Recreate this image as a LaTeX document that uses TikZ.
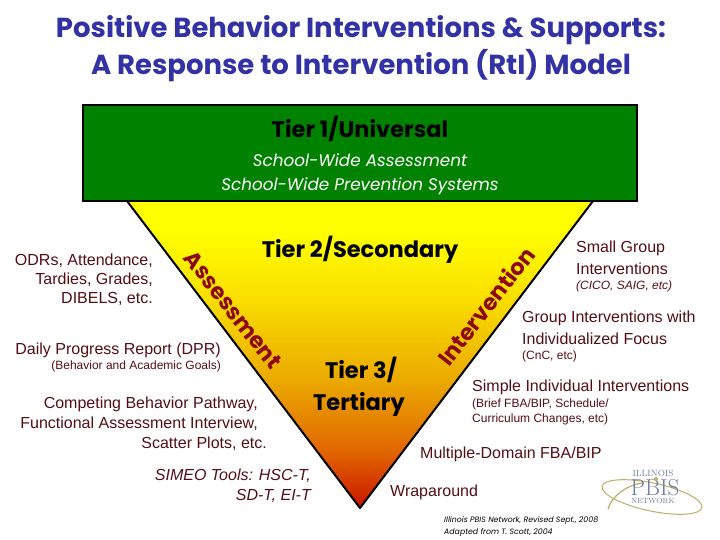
\documentclass[tikz,border=0pt]{standalone}
\usepackage{fontspec}
\setmainfont{Liberation Sans}
\newfontfamily\gothic{Poppins}
\usetikzlibrary{positioning,shapes.geometric}
\definecolor{titleblue}{RGB}{50,50,165}
\definecolor{tiergreen}{RGB}{0,130,0}
\definecolor{notered}{RGB}{85,15,20}
\definecolor{sidered}{RGB}{140,10,10}
\definecolor{logoblue}{RGB}{110,125,155}
\definecolor{logogold}{RGB}{185,175,105}
\definecolor{fadeA}{RGB}{200,20,0}
\definecolor{fadeB}{RGB}{225,100,0}
\definecolor{fadeC}{RGB}{235,170,0}
\definecolor{fadeD}{RGB}{250,225,0}
\pgfdeclareverticalshading{tierfade}{100bp}{color(0bp)=(fadeA);color(25bp)=(fadeA);color(34bp)=(fadeB);color(46bp)=(fadeC);color(60bp)=(fadeD);color(70bp)=(yellow);color(100bp)=(yellow)}
\begin{document}
\begin{tikzpicture}[x=1pt,y=-1pt,
titletext/.style={font=\gothic\bfseries\fontsize{27.5}{27.5}\selectfont,text=titleblue,inner sep=0pt},
tiertext/.style={font=\gothic\bfseries\fontsize{22.5}{22.5}\selectfont,inner sep=0pt},
schooltext/.style={font=\gothic\itshape\fontsize{16.8}{16.8}\selectfont,text=white,inner sep=0pt},
sidetext/.style={font=\gothic\bfseries\fontsize{22.5}{22.5}\selectfont,text=sidered,inner sep=0pt},
note/.style={font=\fontsize{16}{16}\selectfont,text=notered,inner sep=0pt},
smallnote/.style={font=\fontsize{12}{12}\selectfont,text=notered,inner sep=0pt},
logotext/.style={font=\fontfamily{lmr}\fontsize{9}{9}\selectfont,text=logoblue,inner sep=0pt}]
\useasboundingbox (0,0) rectangle (720,540);
\fill[white] (0,0) rectangle (720,540);
\shade[shading=tierfade,draw=black,line width=2pt,line join=round] (127,201) -- (593,201) -- (360,508) -- cycle;
\node[draw=black,line width=1.5pt,fill=tiergreen,minimum width=554pt,minimum height=96pt,inner sep=0pt] (uni) at (360,153) {};
\node[titletext] (title1) at (361,30) {Positive Behavior Interventions \& Supports:};
\node[titletext] (title2) at (361,66) {A Response to Intervention (RtI) Model};
\node[tiertext] (tier1) at (360,129) {Tier 1/Universal};
\node[schooltext] (school1) at (360,160) {School-Wide Assessment};
\node[schooltext] (school2) at (360,186) {School-Wide Prevention Systems};
\node[tiertext] (tier2) at (360,250) {Tier 2/Secondary};
\node[tiertext] (tier3) at (361,370) {Tier 3/};
\node[tiertext] (tertiary) at (359,404) {Tertiary};
\node[sidetext,rotate=-52] (assess) at (233,310) {Assessment};
\node[sidetext,rotate=52] (interv) at (486,306) {Intervention};
% left column
\node[note,anchor=east] (odr) at (153,261) {ODRs, Attendance,};
\node[note,anchor=east] (tardies) at (153,280) {Tardies, Grades,};
\node[note,anchor=east] (dibels) at (153,299) {DIBELS, etc.};
\node[note,anchor=east] (dpr) at (221,350) {Daily Progress Report (DPR)};
\node[smallnote,anchor=east] (goals) at (221,366) {(Behavior and Academic Goals)};
\node[note,anchor=east] (pathway) at (258,404) {Competing Behavior Pathway,};
\node[note,anchor=east] (fai) at (258,424) {Functional Assessment Interview,};
\node[note,anchor=east] (scatter) at (267,444) {Scatter Plots, etc.};
\node[note,font=\itshape\fontsize{16}{16}\selectfont,anchor=east] (simeo) at (311,476) {SIMEO Tools: HSC-T,};
\node[note,font=\itshape\fontsize{16}{16}\selectfont,anchor=east] (sdt) at (311,496) {SD-T, EI-T};
% right column
\node[note,anchor=west] (small) at (576,248) {Small Group};
\node[note,anchor=west] (sminter) at (576,269) {Interventions};
\node[smallnote,font=\itshape\fontsize{12}{12}\selectfont,anchor=west] (cico) at (576,286) {(CICO, SAIG, etc)};
\node[note,anchor=west] (group) at (522,318) {Group Interventions with};
\node[note,anchor=west] (indiv) at (522,339) {Individualized Focus};
\node[smallnote,anchor=west] (cnc) at (522,356) {(CnC, etc)};
\node[note,anchor=west] (simple) at (472,387) {Simple Individual Interventions};
\node[smallnote,anchor=west] (brief) at (472,404) {(Brief FBA/BIP, Schedule/};
\node[smallnote,anchor=west] (curr) at (472,419) {Curriculum Changes, etc)};
\node[note,anchor=west] (multi) at (420,454) {Multiple-Domain FBA/BIP};
\node[note,anchor=west] (wrap) at (390,492) {Wraparound};
\node[font=\gothic\itshape\fontsize{7.8}{7.8}\selectfont,inner sep=0pt,anchor=west] (credit1) at (444,521) {Illinois PBIS Network, Revised Sept., 2008};
\node[font=\gothic\itshape\fontsize{7.8}{7.8}\selectfont,inner sep=0pt,anchor=west] (credit2) at (444,533) {Adapted from T. Scott, 2004};
% logo
\draw[logogold,line width=1pt,rotate around={-12:(652,497)}] (652,497) ellipse (51pt and 14pt);
\draw[logogold,line width=1.2pt] (608,509) .. controls (612,495) and (628,485) .. (642,483);
\node[logotext] (illinois) at (653,473) {ILLINOIS};
\node[logotext,font=\fontfamily{lmr}\fontsize{23}{23}\selectfont] (pbis) at (655,488) {PBIS};
\node[logotext,font=\fontfamily{lmr}\fontsize{7.5}{7.5}\selectfont] (network) at (653,501) {NETWORK};
\node[star,fill=logogold,minimum size=5pt,inner sep=0pt] (pbisstar) at (656,479) {};
\end{tikzpicture}
\end{document}
